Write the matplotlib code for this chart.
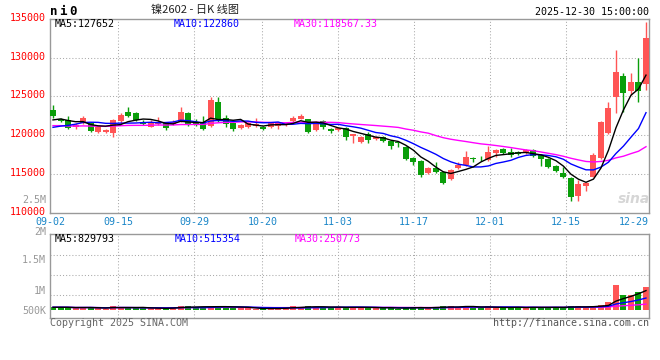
import numpy as np
import pandas as pd
import matplotlib
matplotlib.use("Agg")
import matplotlib.pyplot as plt
import matplotlib.transforms as mtransforms

# ---------------- data ----------------
dates = ["09-02","09-03","09-04","09-05","09-08","09-09","09-10","09-11","09-12",
         "09-15","09-16","09-17","09-18","09-19","09-22","09-23","09-24","09-25","09-26",
         "09-29","09-30","10-09","10-10","10-13","10-14","10-15","10-16","10-17",
         "10-20","10-21","10-22","10-23","10-24","10-27","10-28","10-29","10-30","10-31",
         "11-03","11-04","11-05","11-06","11-07","11-10","11-11","11-12","11-13","11-14",
         "11-17","11-18","11-19","11-20","11-21","11-24","11-25","11-26","11-27","11-28",
         "12-01","12-02","12-03","12-04","12-05","12-08","12-09","12-10","12-11","12-12",
         "12-15","12-16","12-17","12-18","12-19","12-22","12-23","12-24","12-25","12-26",
         "12-29","12-30"]

open_ = [123260,122090,121970,121020,121540,121540,120380,120380,120330,121880,
         123000,122830,121750,121100,121410,121540,121410,121750,122910,121540,
         121540,121230,124330,122180,121540,120930,121020,121190,121100,121020,
         121230,121320,121840,122130,122060,120670,121840,120840,120670,120890,
         119900,119090,120160,119470,119730,119250,119090,118440,117100,116710,
         115160,115810,115290,114350,115810,116170,116950,117050,116800,117740,
         118220,117880,117880,117670,118130,117450,116930,116070,115090,114440,
         112190,113490,114650,117020,120250,124970,127680,125750,126830,126610]
high = [123900,122220,122480,121540,122480,121670,121190,120800,122090,122910,
        123680,123000,121970,121970,122390,121710,121900,123680,123040,122060,
        122480,124900,124970,122610,121710,121500,121700,122180,121230,121700,
        121650,121620,122480,122740,122150,121800,121950,120950,121100,121000,
        120200,119900,120460,119850,119850,119350,119150,118550,117200,116800,
        115900,116580,115400,115600,116500,117960,117230,117360,118610,118200,
        118300,118310,118000,118200,118250,117550,117050,116150,115940,114550,
        114220,113950,117670,121850,124330,131000,127990,128070,129930,134600]
low = [122180,121670,120770,120800,121450,120460,120290,120250,119810,121540,
       122390,121840,121320,121020,121320,120710,121300,121670,121190,121190,
       120670,121100,121670,121020,120550,120800,120900,121100,120700,120900,
       120770,121230,121710,122050,120290,120550,120770,120330,120550,119380,
       118960,118950,118960,119350,119100,118180,118440,116800,116160,114650,
       115050,115150,113750,114220,115700,116050,116540,116670,116670,117230,
       117550,117230,117450,117550,117150,116080,115750,115290,114450,111510,
       111550,112840,114550,116900,120150,122830,123040,125190,124330,125840]
close = [122480,121840,120890,121320,122260,120580,121020,120670,121970,122610,
         122480,121970,121410,121750,121620,120890,121670,123040,121320,121320,
         120800,124550,122090,121410,120800,121360,121540,121410,120800,121540,
         121540,121540,122220,122520,120460,121710,121020,120580,120970,119730,
         120120,119810,119380,119730,119250,118650,118960,116930,116580,114870,
         115810,115250,113870,115510,116160,117150,116890,117000,117840,118090,
         117670,117450,117580,118090,117270,116930,115860,115420,114570,112070,
         113700,113870,117450,121750,123550,128200,125410,126910,125750,132510]
# closes of the 29 sessions before 09-02 (implied by the MA lines at the left edge)
pre_close = [121800,122100,121900,121500,121300,121600,121200,120900,121100,121400,
             121700,121500,121200,120800,121000,121300,121500,121200,120900,121000,
             120300,119900,119800,120100,120200,121200,121900,122100,122200]

volume = [123,125,120,80,118,122,80,55,178,125,
          120,82,80,82,80,75,123,178,178,120,
          123,135,190,185,80,82,80,58,60,82,
          80,123,178,123,178,123,120,123,120,123,
          120,123,118,82,80,123,55,123,120,125,
          80,123,178,178,123,178,123,80,178,80,
          123,118,120,123,118,122,120,123,123,178,
          160,120,165,230,330,1080,660,630,790,990]
volume = [v * 1000 for v in volume]

price_ticks = [110000, 115000, 120000, 125000, 130000, 135000]
x_tick_labels = ["09-02", "09-15", "09-29", "10-20", "11-03", "11-17", "12-01", "12-15", "12-29"]
vol_tick_labels = ["2.5M", "2M", "1.5M", "1M", "500K"]
ma_price_labels = ["MA5:127652", "MA10:122860", "MA30:118567.33"]
ma_vol_labels = ["MA5:829793", "MA10:515354", "MA30:250773"]
title_text = "镍2602 - 日K 线图"
symbol_text = "ni0"
time_text = "2025-12-30 15:00:00"

# ---------------- style ----------------
RED = "#ff5555"
GREEN = "#0a9e0a"
GRID = "#aaaaaa"
BORDER = "#999999"
XLAB = "#1a86c8"
MONO = "DejaVu Sans Mono"
FS = 7.2
W, H = 660, 360

def fx(px):
    return px / W

def fy(py):
    return 1 - py / H

fig = plt.figure(figsize=(6.6, 3.6), dpi=100)
fig.patch.set_facecolor("white")

ax = fig.add_axes([fx(50), fy(212.7), 599 / W, 193.7 / H])
axv = fig.add_axes([fx(50), fy(318), 599 / W, 84 / H])

n = len(close)
x = np.arange(n)
o = np.array(open_, float); c = np.array(close, float)
hi = np.array(high, float); lo = np.array(low, float)
up = c >= o
cols = np.where(up, RED, GREEN)

XL = (-0.4, 79.4)
for a in (ax, axv):
    a.set_xlim(*XL)
    for s in a.spines.values():
        s.set_color(BORDER)
        s.set_linewidth(1.0)
    a.set_xticks([])
    a.tick_params(length=0)

ax.set_ylim(110000, 135000)

# grid positions (Sina spaces its date grid slightly differently from candles)
label_idx = [dates.index(d) for d in x_tick_labels]
grid_x = [XL[0] + k * (XL[1] - XL[0]) / 79 for k in label_idx]
dot = (0, (1, 2))
for g in grid_x[1:-1]:
    ax.axvline(g, color=GRID, lw=0.75, ls=dot, zorder=0)
    axv.axvline(g, color=GRID, lw=0.75, ls=dot, zorder=0)
for yv in price_ticks[1:-1]:
    ax.axhline(yv, color=GRID, lw=0.75, ls=dot, zorder=0)
for f in (0.75, 0.512, 0.274):
    axv.plot([0, 1], [f, f], transform=axv.transAxes, color=GRID, lw=0.75, ls=dot, zorder=0)

# candles
ax.vlines(x, lo, hi, colors=cols, lw=1.0, zorder=2)
body_bottom = np.minimum(o, c)
body_h = np.maximum(np.abs(c - o), 110)
ax.bar(x, body_h, bottom=body_bottom, width=0.8, color=cols, linewidth=0, zorder=3)

# moving averages
full = pd.Series(np.concatenate([pre_close, close]).astype(float))
k0 = len(pre_close)
ma5 = full.rolling(5).mean().values[k0:]
ma10 = full.rolling(10).mean().values[k0:]
ma30 = full.rolling(30).mean().values[k0:]
ax.plot(x, ma30, color="#ff00ff", lw=1.0, zorder=4)
ax.plot(x, ma10, color="#0000ff", lw=1.0, zorder=4)
ax.plot(x, ma5, color="#000000", lw=1.0, zorder=5)

# price tick labels
ax.set_yticks(price_ticks)
ax.set_yticklabels([str(t) for t in price_ticks], family=MONO, fontsize=FS, color="#ff0000")
ax.tick_params(axis="y", length=0, pad=3)
for lab in ax.get_yticklabels():
    lab.set_transform(lab.get_transform() + mtransforms.ScaledTranslation(0, 0.02, fig.dpi_scale_trans))

# date labels
xtrans = mtransforms.offset_copy(ax.get_xaxis_transform(), fig=fig, y=-4, units="dots")
for i, (lbl, g) in enumerate(zip(x_tick_labels, grid_x)):
    if i == len(x_tick_labels) - 1:
        ax.text(XL[1], 0, lbl, transform=xtrans, ha="right", va="top",
                family=MONO, fontsize=FS, color=XLAB)
    else:
        ax.text(g, 0, lbl, transform=xtrans, ha="center", va="top",
                family=MONO, fontsize=FS, color=XLAB)

# volume
v = np.array(volume, float)
axv.set_ylim(-331000, 3231000)
axv.set_yticks([])
axv.bar(x, v, width=0.8, color=cols, linewidth=0, zorder=2)
vs = pd.Series(v)
axv.plot(x, vs.rolling(30, min_periods=1).mean(), color="#ff00ff", lw=1.0, zorder=4)
axv.plot(x, vs.rolling(10, min_periods=1).mean(), color="#0000ff", lw=1.0, zorder=4)
axv.plot(x, vs.rolling(5, min_periods=1).mean(), color="#000000", lw=1.0, zorder=5)

for lbl, py in zip(vol_tick_labels, [200, 231.5, 260, 291, 311]):
    fig.text(fx(46), fy(py), lbl, ha="right", va="center", family=MONO,
             fontsize=FS, color="#999999")

# MA labels
for lbl, px, col in zip(ma_price_labels, [55, 174, 294], ["#000000", "#0000ff", "#ff00ff"]):
    fig.text(fx(px), fy(24), lbl, ha="left", va="center", family=MONO, fontsize=FS, color=col)
for lbl, px, col in zip(ma_vol_labels, [55, 175, 295], ["#000000", "#0000ff", "#ff00ff"]):
    fig.text(fx(px), fy(239), lbl, ha="left", va="center", family=MONO, fontsize=FS, color=col)

# header
for ch, px in zip(symbol_text, [53.5, 62.5, 73]):
    fig.text(fx(px), fy(11.5), ch, ha="center", va="center", family=MONO,
             fontsize=9, fontweight="bold", color="#000000")
fig.text(fx(195), fy(10), title_text, ha="center", va="center",
         family=["Noto Sans CJK SC", "DejaVu Sans"], fontsize=8, color="#222222")
fig.text(fx(649), fy(12), time_text, ha="right", va="center", family=MONO,
         fontsize=FS, color="#000000")

# footer
fig.text(fx(50), fy(323.5), "Copyright 2025 SINA.COM", ha="left", va="center",
         family=MONO, fontsize=FS, color="#666666")
fig.text(fx(649), fy(323.5), "http://finance.sina.com.cn", ha="right", va="center",
         family=MONO, fontsize=FS, color="#555555")

# watermark
fig.text(fx(634), fy(199), "sina", ha="center", va="center", fontsize=10,
         fontstyle="italic", fontweight="bold", color="#d6d6d6")

fig.savefig("out.png", dpi=100)
